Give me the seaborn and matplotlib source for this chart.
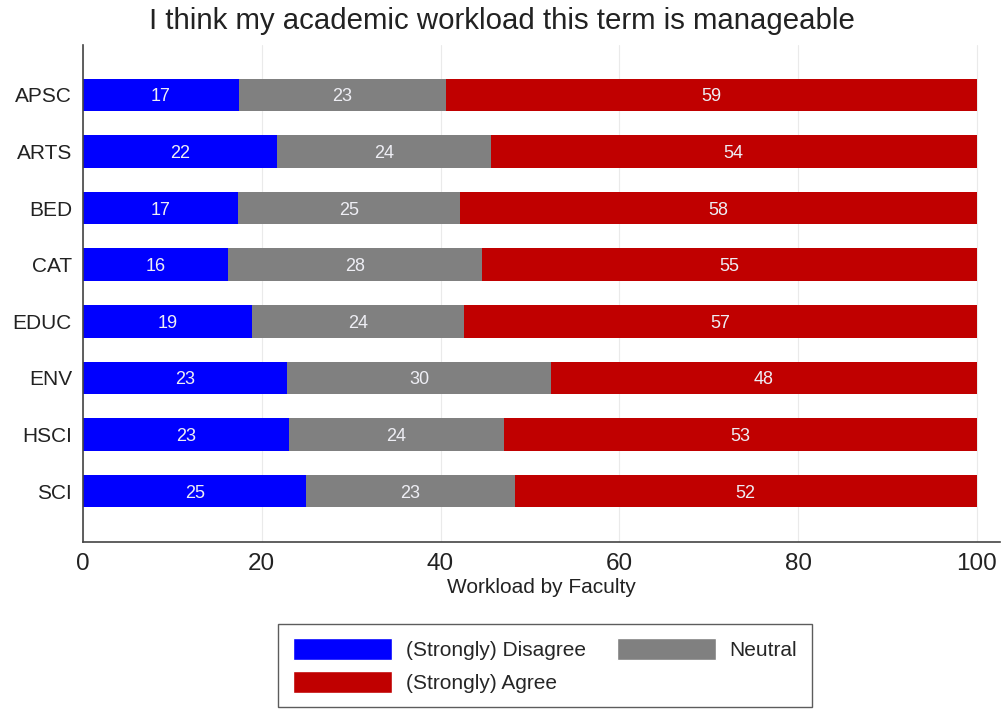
import numpy as np
import pandas as pd
import seaborn as sns
import matplotlib
matplotlib.use("Agg")
import matplotlib.pyplot as plt
from matplotlib.patches import Patch

faculties = ["APSC", "ARTS", "BED", "CAT", "EDUC", "ENV", "HSCI", "SCI"]
disagree = [17.4, 21.7, 17.3, 16.2, 18.9, 22.8, 23.0, 25.0]
neutral = [23.2, 23.9, 24.9, 28.4, 23.7, 29.6, 24.1, 23.3]
agree = [59.4, 54.4, 57.8, 55.4, 57.4, 47.6, 52.9, 51.7]

title = "I think my academic workload this term is manageable"
xlabel = "Workload by Faculty"
xticks = [0, 20, 40, 60, 80, 100]
series_names = ["(Strongly) Disagree", "Neutral", "(Strongly) Agree"]
colors = ["#0000FF", "#808080", "#C00000"]

sns.set_theme(style="white")
plt.rcParams["font.family"] = ["Liberation Sans", "DejaVu Sans"]

df = pd.DataFrame({"faculty": faculties, "d": disagree, "n": neutral, "a": agree})
df["c1"] = df["d"]
df["c2"] = df["d"] + df["n"]
df["c3"] = df["d"] + df["n"] + df["a"]

fig = plt.figure(figsize=(10.03, 7.10), dpi=100)
ax = fig.add_axes([83 / 1003, 1 - 542 / 710, (1000 - 83) / 1003, (542 - 45) / 710])

# stacked bars drawn back to front as cumulative totals
for col, color in zip(["c3", "c2", "c1"], colors[::-1]):
    sns.barplot(data=df, x=col, y="faculty", order=faculties, color=color,
                width=0.575, saturation=1, ax=ax, linewidth=0)

# segment value labels
for i in range(len(faculties)):
    starts = [0, df["c1"][i], df["c2"][i]]
    vals = [df["d"][i], df["n"][i], df["a"][i]]
    for s, v in zip(starts, vals):
        ax.text(s + v / 2, i, f"{round(v):d}", ha="center", va="center_baseline",
                color="#EEEEF4", fontsize=13)

ax.set_xlim(0, 102.6)
ax.set_ylim(7.9, -0.88)
ax.set_xticks(xticks)
ax.set_xticklabels([str(t) for t in xticks], fontsize=17.5, color="#222222")
ax.tick_params(axis="x", length=6, width=1, color="#333333", direction="out", pad=2)
ax.tick_params(axis="y", length=0, labelsize=15, pad=8, labelcolor="#222222")
ax.set_xlabel(xlabel, fontsize=15, color="#222222", labelpad=2)
ax.set_ylabel("")
ax.xaxis.grid(True, color="#EAEAEA", linewidth=0.8)
ax.set_axisbelow(True)
for side in ["top", "right"]:
    ax.spines[side].set_visible(False)
for side in ["left", "bottom"]:
    ax.spines[side].set_color("#444444")
    ax.spines[side].set_linewidth(1.2)

fig.suptitle(title, fontsize=21.2, y=1 - 21 / 710, va="center", color="#222222")

handles = [Patch(facecolor=colors[0]), Patch(facecolor=colors[2]), Patch(facecolor=colors[1])]
labels = [series_names[0], series_names[2], series_names[1]]
leg = fig.legend(handles, labels, ncol=2, loc="center",
                 bbox_to_anchor=(545 / 1003, 1 - 665.5 / 710),
                 fontsize=15, frameon=True, fancybox=False,
                 handlelength=4.75, handleheight=1.25, handletextpad=0.65,
                 columnspacing=1.5, labelspacing=0.5, borderpad=0.7)
leg.get_frame().set_edgecolor("#333333")
leg.get_frame().set_linewidth(1.0)

fig.savefig("out.png", dpi=100)
